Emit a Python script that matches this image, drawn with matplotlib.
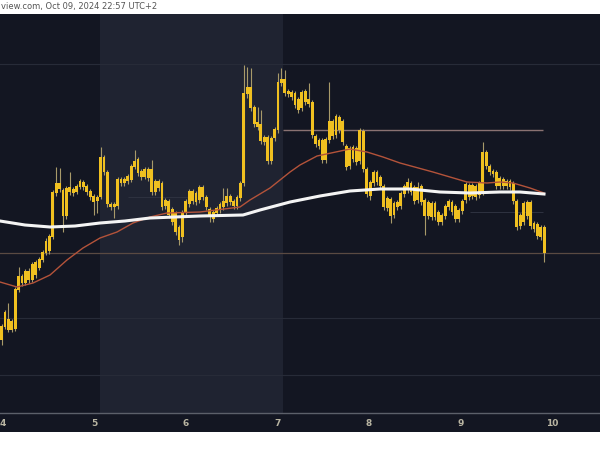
import numpy as np
import matplotlib
matplotlib.use('Agg')
import matplotlib.pyplot as plt
from matplotlib.patches import Rectangle

# hourly-ish candles, price in chart units
opens = [110, 123, 130, 120, 121, 160, 173, 167, 178, 170, 187, 182, 190, 197, 199, 213, 257, 266, 259, 234,
         262, 257, 258, 263, 267, 263, 258, 253, 249, 253, 292, 277, 245, 243, 244, 270, 267, 269, 270, 283,
         290, 278, 273, 280, 280, 258, 268, 266, 244, 248, 240, 236, 222, 213, 237, 246, 258, 248, 250, 262,
         252, 240, 231, 237, 240, 243, 247, 253, 248, 244, 252, 267, 356, 362, 342, 327, 325, 308, 312, 289,
         312, 320, 367, 370, 358, 357, 356, 350, 342, 358, 346, 347, 313, 304, 309, 290, 310, 328, 315, 332,
         328, 303, 284, 302, 301, 289, 318, 280, 254, 267, 277, 272, 263, 242, 250, 235, 247, 244, 256, 260,
         266, 262, 250, 263, 249, 234, 246, 233, 237, 228, 234, 243, 247, 243, 231, 239, 250, 264, 254, 263,
         255, 258, 297, 283, 278, 277, 264, 270, 264, 268, 266, 248, 224, 228, 247, 247, 226, 225, 213, 222]
closes = [123, 137, 120, 128, 160, 173, 167, 178, 170, 185, 175, 190, 197, 208, 213, 257, 266, 261, 234, 261,
          258, 260, 263, 268, 263, 258, 253, 248, 252, 292, 278, 246, 243, 245, 270, 267, 270, 273, 283, 288,
          277, 273, 280, 272, 258, 268, 262, 243, 249, 235, 228, 218, 210, 237, 248, 258, 249, 256, 262, 253,
          243, 233, 237, 241, 245, 248, 253, 248, 244, 252, 266, 356, 362, 342, 326, 323, 309, 312, 289, 311,
          320, 367, 370, 357, 356, 353, 345, 340, 357, 348, 350, 315, 306, 309, 290, 310, 328, 314, 333, 320,
          308, 283, 301, 291, 288, 319, 281, 256, 267, 277, 268, 264, 243, 251, 234, 246, 243, 256, 263, 267,
          258, 249, 262, 248, 234, 247, 233, 246, 228, 234, 243, 248, 238, 231, 239, 248, 265, 253, 264, 253,
          266, 297, 284, 278, 276, 264, 271, 264, 268, 263, 249, 223, 234, 246, 234, 224, 221, 214, 222, 197]
highs = [126, 140, 147, 131, 163, 183, 176, 181, 182, 188, 190, 193, 200, 212, 216, 260, 283, 282, 262, 264,
         278, 263, 266, 271, 270, 266, 261, 256, 255, 303, 295, 280, 248, 248, 273, 273, 273, 276, 286, 300,
         293, 281, 283, 283, 290, 271, 271, 269, 252, 251, 243, 239, 225, 240, 251, 261, 261, 259, 265, 265,
         255, 243, 240, 244, 248, 262, 262, 256, 251, 255, 269, 385, 383, 382, 345, 343, 340, 315, 315, 314,
         323, 377, 382, 380, 361, 360, 359, 353, 360, 361, 367, 350, 316, 312, 312, 313, 368, 331, 336, 335,
         331, 306, 304, 305, 304, 322, 321, 283, 270, 280, 280, 275, 266, 254, 253, 249, 250, 259, 266, 272,
         269, 265, 268, 266, 252, 250, 249, 249, 240, 237, 246, 251, 250, 246, 242, 251, 268, 267, 267, 266,
         269, 308, 300, 286, 281, 280, 274, 273, 271, 271, 269, 251, 237, 249, 250, 250, 229, 228, 225, 225]
lows = [105, 121, 118, 118, 119, 158, 164, 165, 167, 168, 172, 180, 188, 195, 196, 211, 254, 258, 218, 231,
        255, 254, 256, 261, 260, 255, 250, 235, 237, 251, 275, 243, 240, 232, 241, 264, 264, 266, 268, 281,
        274, 270, 271, 269, 255, 255, 259, 240, 241, 232, 225, 215, 205, 208, 234, 243, 246, 245, 247, 250,
        240, 228, 228, 234, 237, 240, 244, 245, 241, 241, 249, 264, 352, 339, 323, 320, 306, 305, 286, 286,
        309, 317, 364, 354, 353, 350, 342, 337, 339, 345, 343, 312, 303, 301, 287, 287, 307, 311, 312, 317,
        305, 280, 281, 288, 285, 286, 278, 253, 250, 264, 265, 261, 240, 239, 227, 232, 240, 241, 253, 257,
        255, 246, 247, 245, 215, 231, 230, 230, 225, 225, 231, 240, 235, 228, 228, 236, 247, 250, 251, 250,
        252, 255, 281, 275, 273, 261, 261, 261, 261, 260, 246, 220, 221, 225, 231, 221, 218, 211, 210, 188]
start_day = 3.984
step_day = 0.0373

# slow (white) and fast (orange) moving averages
slow_days = [3.967, 4.240, 4.514, 4.787, 5.060, 5.333, 5.607, 5.880, 6.153, 6.623, 6.809,
             7.137, 7.464, 7.792, 8.120, 8.448, 8.776, 9.104, 9.432, 9.650, 9.913]
slow_ma = [229, 225, 223, 224, 227, 229, 232, 233, 234, 235, 240,
           248, 254, 259, 261, 261, 258, 257, 258, 258, 256]
fast_days = [3.967, 4.153, 4.328, 4.514, 4.699, 4.874, 5.060, 5.246, 5.421, 5.607, 5.792, 6.153,
             6.590, 6.699, 6.918, 7.137, 7.246, 7.432, 7.792, 7.978, 8.153, 8.339, 8.699, 9.071,
             9.290, 9.432, 9.574, 9.760, 9.913]
fast_ma = [168, 163, 167, 175, 190, 202, 212, 218, 227, 233, 237, 238,
           243, 250, 262, 278, 285, 294, 301, 298, 293, 287, 278, 268,
           267, 268, 267, 262, 257]

day_ticks = [4, 5, 6, 7, 8, 9, 10]
resistance = 320
support = 197
grid_levels = [386, 132, 75]

bg = '#131622'
fig = plt.figure(figsize=(6, 4.5), dpi=100)
fig.patch.set_facecolor('white')
# dark strip under the time axis
fig.patches.append(Rectangle((0, 18 / 450), 1, 19 / 450, transform=fig.transFigure,
                             facecolor=bg, edgecolor='none', zorder=-5))

ax = fig.add_axes([0, 37 / 450, 1, 399 / 450])
ax.set_facecolor(bg)
ax.set_xlim(3.967, 10.525)
ax.set_ylim(37, 436)

# highlighted session
ax.axvspan(5.06, 7.06, color='#1f2331', lw=0, zorder=0)

for g in grid_levels:
    ax.axhline(g, color='#272b38', lw=0.8, zorder=1)
ax.hlines(253, 5.37, 6.03, color='#2e3240', lw=0.7, zorder=1)
ax.hlines(238, 9.10, 9.90, color='#2e3240', lw=0.7, zorder=1)
ax.axhline(support, color='#5a4a42', lw=0.9, zorder=1)
ax.hlines(resistance, 7.06, 9.90, color='#8a7272', lw=1.0, zorder=1)

x = start_day + step_day * np.arange(len(closes))
o = np.array(opens)
c = np.array(closes)
ax.vlines(x, lows, highs, color='#a89a6a', lw=0.8, zorder=2)
ax.bar(x, np.abs(c - o) + 0.8, bottom=np.minimum(o, c), width=0.031,
       color='#f0c020', edgecolor='none', zorder=3)

ax.plot(fast_days, fast_ma, color='#b4533a', lw=1.0, zorder=4)
ax.plot(slow_days, slow_ma, color='#f4f4f4', lw=2.2, zorder=5)

ax.set_xticks(day_ticks)
ax.set_xticklabels([str(d) for d in day_ticks], fontsize=6.5, fontweight='bold', color='#b9b5a2')
ax.tick_params(axis='x', length=0, pad=4)
ax.set_yticks([])
for s in ['top', 'left', 'right']:
    ax.spines[s].set_visible(False)
ax.spines['bottom'].set_color('#5c606a')
ax.spines['bottom'].set_linewidth(1.0)

fig.text(0.002, 1 - 7 / 450, 'view.com, Oct 09, 2024 22:57 UTC+2', fontsize=6, color='#555555',
         va='center', ha='left')

fig.savefig('out.png', dpi=100)
